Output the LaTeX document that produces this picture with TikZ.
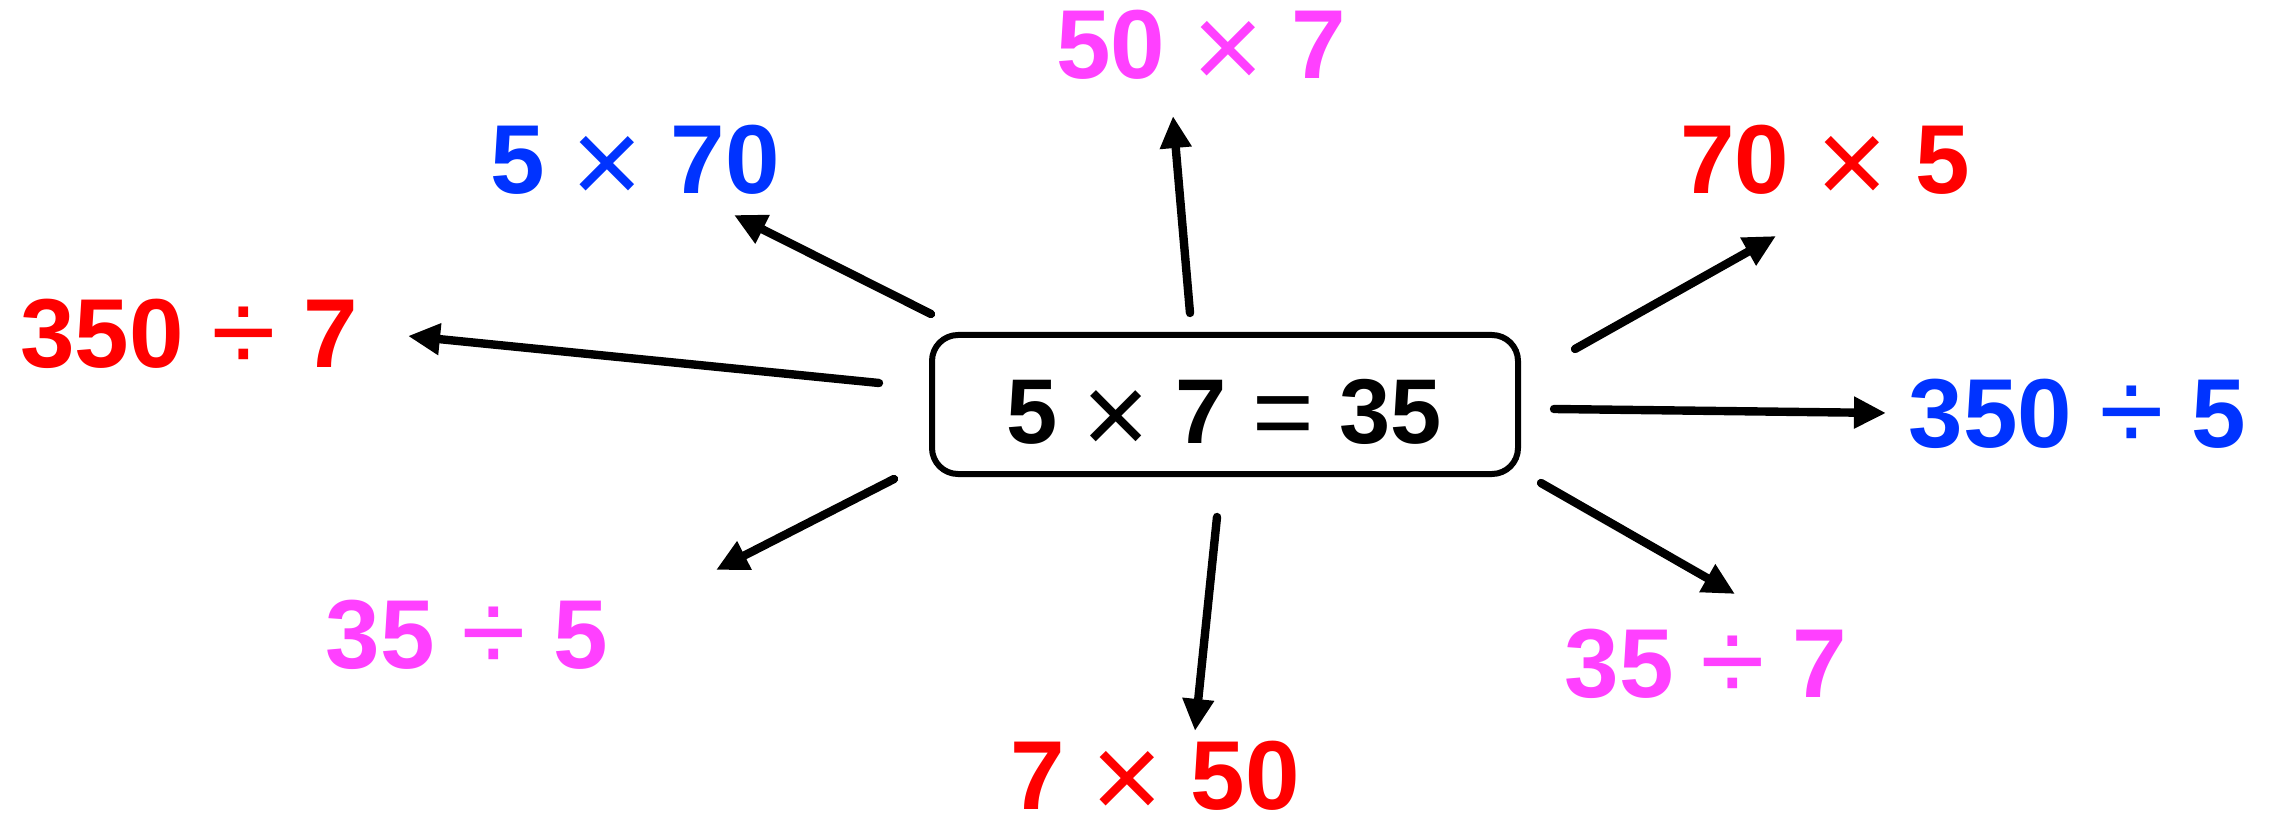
\documentclass[tikz,border=0pt]{standalone}
\usepackage{fontspec}
\setmainfont{Liberation Sans}
\usetikzlibrary{arrows.meta}
\definecolor{cred}{RGB}{255,0,0}
\definecolor{cblue}{RGB}{0,51,255}
\definecolor{cmag}{RGB}{255,64,255}
\newcommand{\opx}{\smash{\raisebox{-0.11em}{\scalebox{1.25}{\mdseries ×}}}}
\newcommand{\opd}{\smash{\raisebox{-0.05em}{\scalebox{1.2}{\mdseries ÷}}}}
\newcommand{\opeq}{\smash{\raisebox{-0.05em}{\scalebox{1.15}{\mdseries =}}}}
\begin{document}
\begin{tikzpicture}[x=0.5pt,y=-0.5pt,
  txt/.style={font=\fontsize{49}{56}\selectfont\bfseries, inner sep=0pt, anchor=base},
  arr/.style={line width=4.2pt, line cap=round, -{Triangle[length=16pt,width=15pt]}}]
\useasboundingbox (0,0) rectangle (2282,818);
\node[draw, line width=3pt, rounded corners=13pt, minimum width=293pt, minimum height=69.5pt, inner sep=0pt] (c) at (1225,404.5) {};
\node[txt, font=\fontsize{46}{54}\selectfont\bfseries] (t) at (1224,444) {5 \opx\ 7 \opeq\ 35};
\node[txt, text=cmag]  (n1) at (1201,79)  {50 \opx\ 7};
\node[txt, text=cblue] (n2) at (635,194)  {5 \opx\ 70};
\node[txt, text=cred]  (n3) at (1825,194) {70 \opx\ 5};
\node[txt, text=cred]  (n4) at (189,368)  {350 \opd\ 7};
\node[txt, text=cblue] (n5) at (2077,447) {350 \opd\ 5};
\node[txt, text=cmag]  (n6) at (467,668)  {35 \opd\ 5};
\node[txt, text=cmag]  (n7) at (1706,697) {35 \opd\ 7};
\node[txt, text=cred]  (n8) at (1155,809) {7 \opx\ 50};
\coordinate (s1) at (1190,313); \coordinate (e1) at (1173,116);
\coordinate (s2) at (931,314);  \coordinate (e2) at (734,215);
\coordinate (s3) at (1575,349); \coordinate (e3) at (1776,236);
\coordinate (s4) at (879,383);  \coordinate (e4) at (408,336);
\coordinate (s5) at (1554,409); \coordinate (e5) at (1886,413);
\coordinate (s6) at (894,479);  \coordinate (e6) at (716,570);
\coordinate (s7) at (1217,517); \coordinate (e7) at (1195,731);
\coordinate (s8) at (1541,483); \coordinate (e8) at (1735,594);
\foreach \i in {1,...,8} { \draw[arr] (s\i) -- (e\i); }
\end{tikzpicture}
\end{document}
